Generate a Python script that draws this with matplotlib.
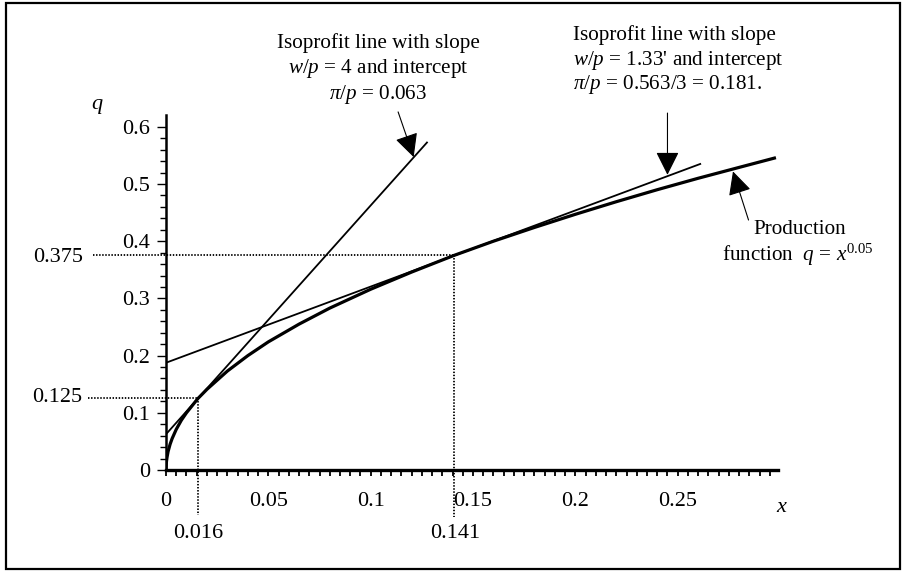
import numpy as np
import matplotlib
matplotlib.use('Agg')
import matplotlib.pyplot as plt
from matplotlib.patches import Rectangle

plt.rcParams['font.family'] = ['Liberation Serif', 'DejaVu Serif']
plt.rcParams['mathtext.fontset'] = 'custom'
plt.rcParams['mathtext.rm'] = 'Liberation Serif'
plt.rcParams['mathtext.it'] = 'Liberation Serif:italic'

# production function, points
curve_x = [0, 0.0002, 0.0005, 0.001, 0.002, 0.003, 0.005, 0.0075, 0.01, 0.0156,
           0.02, 0.03, 0.04, 0.05, 0.065, 0.08, 0.1, 0.12, 0.1406, 0.16,
           0.18, 0.2, 0.22, 0.24, 0.26, 0.28, 0.298]
curve_q = [0, 0.014, 0.022, 0.032, 0.045, 0.055, 0.071, 0.087, 0.1, 0.125,
           0.141, 0.173, 0.2, 0.224, 0.255, 0.283, 0.316, 0.346, 0.375, 0.4,
           0.424, 0.447, 0.469, 0.49, 0.51, 0.529, 0.546]

# isoprofit lines (end points)
iso1_x = [0, 0.1275]
iso1_q = [0.0625, 0.5725]
iso2_x = [0, 0.261]
iso2_q = [0.1875, 0.535]

# tangency points
tan_x = [0.0156, 0.1406]
tan_q = [0.125, 0.375]
tan_xlabels = ['0.016', '0.141']
tan_qlabels = ['0.125', '0.375']

xticks = [0, 0.05, 0.1, 0.15, 0.2, 0.25]
xticklabels = ['0', '0.05', '0.1', '0.15', '0.2', '0.25']
yticks = [0, 0.1, 0.2, 0.3, 0.4, 0.5, 0.6]
yticklabels = ['0', '0.1', '0.2', '0.3', '0.4', '0.5', '0.6']

W, H = 905, 573
fig = plt.figure(figsize=(W / 100, H / 100), dpi=100)
ax = fig.add_axes([166 / W, 1 - 470 / H, 612 / W, 355 / H])

def px(x, y):
    return x / W, 1 - y / H

ax.plot(curve_x, curve_q, color='black', lw=2.3, solid_capstyle='butt')
ax.plot(iso1_x, iso1_q, color='black', lw=1.3)
ax.plot(iso2_x, iso2_q, color='black', lw=1.3)

# dotted guide lines
dot = dict(color='black', lw=1.3, linestyle=(0, (0.8, 0.9)), clip_on=False)
ax.plot([-0.038, tan_x[0]], [tan_q[0], tan_q[0]], **dot)
ax.plot([tan_x[0], tan_x[0]], [tan_q[0], -0.079], **dot)
ax.plot([-0.0357, tan_x[1]], [tan_q[1], tan_q[1]], **dot)
ax.plot([tan_x[1], tan_x[1]], [tan_q[1], -0.082], **dot)

ax.set_xlim(0, 0.299)
ax.set_ylim(0, 0.6206)
for s in ['top', 'right']:
    ax.spines[s].set_visible(False)
ax.spines['left'].set_linewidth(1.8)
ax.spines['bottom'].set_linewidth(2.4)

ax.set_xticks(xticks)
ax.set_xticklabels(xticklabels)
ax.set_xticks(np.arange(0, 0.2975, 0.005), minor=True)
ax.set_yticks(yticks)
ax.set_yticklabels(yticklabels)
ax.set_yticks(np.arange(0, 0.601, 0.02), minor=True)
ax.tick_params(axis='x', which='both', direction='out', length=4.5, width=1.3,
               labelsize=16, pad=11)
ax.tick_params(axis='y', which='major', direction='out', length=6.5, width=1.0,
               labelsize=16, pad=5)
ax.tick_params(axis='y', which='minor', direction='out', length=4, width=1.0)

# tangency labels outside the axes
fig.text(*px(58, 258), tan_qlabels[1], ha='center', va='center', fontsize=16)
fig.text(*px(57, 398), tan_qlabels[0], ha='center', va='center', fontsize=16)
fig.text(*px(198, 533), tan_xlabels[0], ha='center', va='center', fontsize=16)
fig.text(*px(455, 533), tan_xlabels[1], ha='center', va='center', fontsize=16)

fig.text(*px(97, 107), '$q$', ha='center', va='center', fontsize=16)
fig.text(*px(782, 507), '$x$', ha='center', va='center', fontsize=16)

# annotations
fs = 15.2
fig.text(*px(378, 43), 'Isoprofit line with slope', ha='center', va='center', fontsize=fs)
fig.text(*px(378, 68), '$w/p$ = 4 and intercept', ha='center', va='center', fontsize=fs)
fig.text(*px(378, 95), r'$\pi/p$ = 0.063', ha='center', va='center', fontsize=fs)

fig.text(*px(573, 35), 'Isoprofit line with slope', ha='left', va='center', fontsize=fs)
fig.text(*px(573, 60), "$w/p$ = 1.33' and intercept", ha='left', va='center', fontsize=fs)
fig.text(*px(573, 85), r'$\pi/p$ = 0.563/3 = 0.181.', ha='left', va='center', fontsize=fs)

fig.text(*px(800, 230), 'Production', ha='center', va='center', fontsize=fs)
fig.text(*px(722, 255), 'function  $q$ = $x^{0.05}$', ha='left', va='center', fontsize=fs)

arrow = dict(arrowstyle='-|>,head_length=1.0,head_width=0.5', mutation_scale=14.5,
             color='black', lw=0.8, shrinkA=0, shrinkB=0)
ax.annotate('', xy=(0.121, 0.547), xytext=(0.1134, 0.626),
            arrowprops=arrow, annotation_clip=False)
ax.annotate('', xy=(0.245, 0.516), xytext=(0.245, 0.624),
            arrowprops=arrow, annotation_clip=False)
ax.annotate('', xy=(0.277, 0.522), xytext=(0.2846, 0.437),
            arrowprops=arrow, annotation_clip=False)

# frame around the whole figure
fig.patches.append(Rectangle((6 / W, 4 / H), 894 / W, 566 / H, transform=fig.transFigure,
                             fill=False, edgecolor='black', lw=1.6))

fig.savefig('out.png', dpi=100)
